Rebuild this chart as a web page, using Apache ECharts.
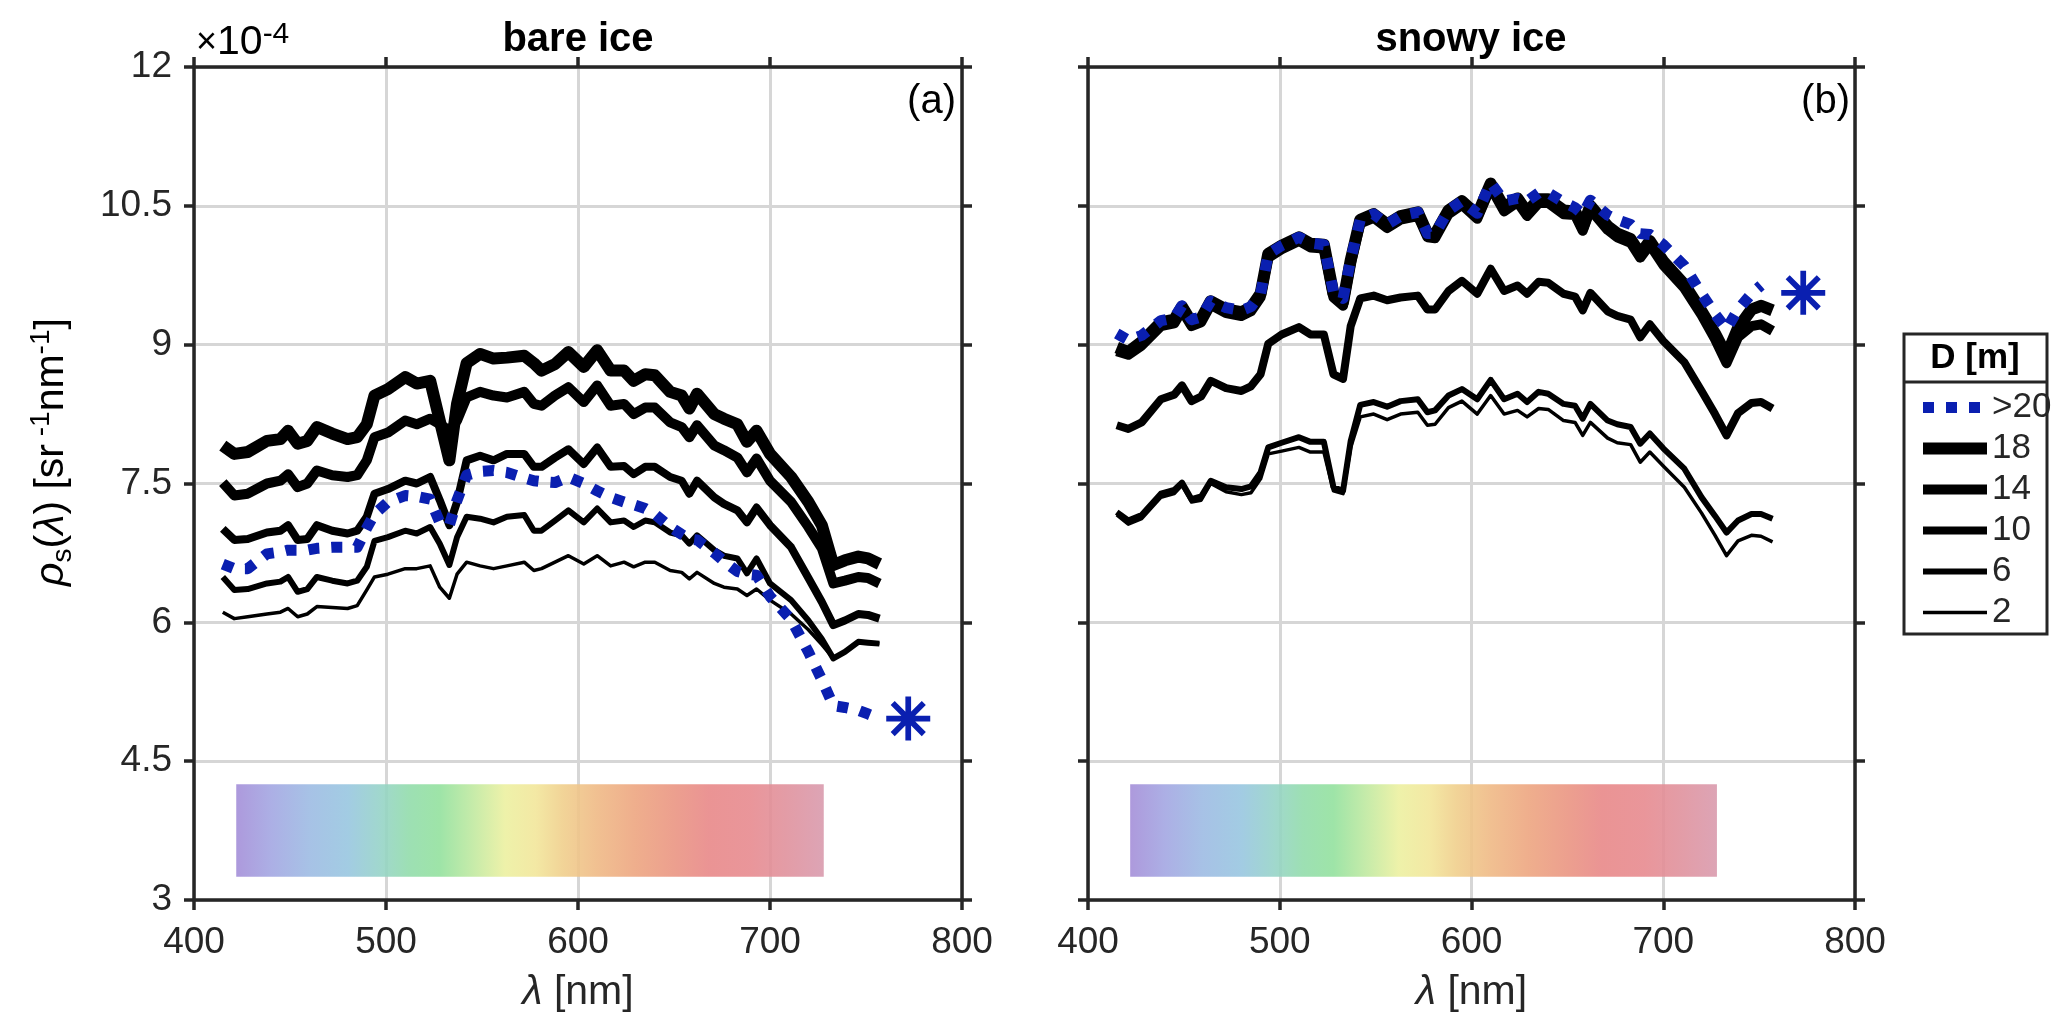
<!DOCTYPE html>
<html><head><meta charset="utf-8">
<script src="https://cdn.jsdelivr.net/npm/echarts@6/dist/echarts.min.js"></script>
<style>html,body{margin:0;padding:0;background:#fff}#c{width:2067px;height:1033px}</style>
</head><body><div id="c"></div>
<script>
// ---------- DATA (values in units of 1e-4 sr^-1 nm^-1) ----------
const wavelength = [415,421,428,438,445,449,454,459,464,472,480,485,490,494,501,510,516,523,528,533,537,542,549,556,563,572,577,581,588,595,603,610,617,624,629,635,640,648,654,658,662,671,676,683,688,693,700,711,720,727,733,739,746,751,757];
const depthNames = ['>20','18','14','10','6','2'];

const bare_gt20 = [6.63,6.58,6.58,6.74,6.76,6.78,6.78,6.78,6.80,6.81,6.81,6.81,7.02,7.17,7.30,7.37,7.36,7.33,7.08,7.05,7.32,7.59,7.63,7.64,7.62,7.56,7.53,7.52,7.51,7.57,7.50,7.42,7.35,7.30,7.27,7.23,7.17,7.03,6.95,6.90,6.89,6.75,6.66,6.55,6.52,6.51,6.28,6.03,5.68,5.38,5.10,5.08,5.05,5.01,4.96];
const bare_18 = [7.91,7.82,7.84,7.96,7.98,8.07,7.93,7.96,8.11,8.04,7.98,8.00,8.14,8.45,8.52,8.65,8.58,8.61,8.18,7.75,8.36,8.80,8.90,8.85,8.86,8.88,8.80,8.72,8.79,8.92,8.76,8.94,8.72,8.72,8.61,8.68,8.67,8.49,8.45,8.31,8.47,8.25,8.20,8.14,7.95,8.07,7.82,7.57,7.30,7.05,6.62,6.67,6.71,6.69,6.63];
const bare_14 = [7.51,7.37,7.39,7.50,7.53,7.60,7.46,7.50,7.64,7.59,7.57,7.59,7.75,8.00,8.05,8.18,8.14,8.20,8.14,8.07,8.18,8.43,8.49,8.45,8.43,8.49,8.36,8.34,8.45,8.54,8.38,8.56,8.34,8.36,8.25,8.32,8.32,8.16,8.11,8.00,8.13,7.91,7.86,7.78,7.62,7.77,7.53,7.30,7.03,6.80,6.42,6.45,6.49,6.48,6.42];
const bare_10 = [7.01,6.89,6.90,6.97,6.99,7.05,6.89,6.90,7.05,6.99,6.96,6.99,7.14,7.39,7.44,7.53,7.50,7.57,7.32,7.05,7.30,7.75,7.80,7.75,7.82,7.82,7.68,7.68,7.78,7.87,7.71,7.89,7.68,7.69,7.60,7.68,7.68,7.57,7.53,7.39,7.53,7.35,7.28,7.21,7.08,7.24,7.05,6.81,6.48,6.22,5.97,6.02,6.09,6.08,6.04];
const bare_6 = [6.49,6.35,6.36,6.42,6.44,6.49,6.33,6.36,6.49,6.45,6.42,6.45,6.60,6.88,6.92,6.99,6.96,7.03,6.85,6.62,6.92,7.14,7.12,7.08,7.14,7.16,6.99,6.99,7.10,7.21,7.08,7.23,7.08,7.10,7.03,7.10,7.08,6.97,6.94,6.85,6.94,6.78,6.72,6.69,6.53,6.69,6.42,6.24,6.02,5.82,5.61,5.68,5.79,5.78,5.77];
const bare_2 = [6.11,6.04,6.06,6.09,6.11,6.15,6.06,6.09,6.17,6.16,6.15,6.18,6.35,6.49,6.52,6.58,6.58,6.61,6.38,6.26,6.52,6.65,6.61,6.58,6.61,6.65,6.56,6.58,6.65,6.72,6.63,6.72,6.61,6.65,6.60,6.65,6.65,6.56,6.54,6.47,6.54,6.42,6.38,6.36,6.29,6.36,6.24,6.09,5.92,5.76,5.61,5.68,5.79,5.78,5.77];

const snow_gt20 = [9.12,9.05,9.10,9.26,9.29,9.42,9.27,9.30,9.47,9.40,9.37,9.41,9.55,9.98,10.07,10.16,10.10,10.08,9.57,9.50,9.92,10.35,10.41,10.30,10.39,10.43,10.20,10.20,10.45,10.55,10.42,10.75,10.55,10.58,10.55,10.64,10.64,10.54,10.48,10.41,10.56,10.40,10.35,10.30,10.20,10.19,10.08,9.85,9.55,9.33,9.17,9.38,9.55,9.64,null];
const snow_18 = [8.97,8.92,9.03,9.24,9.27,9.41,9.24,9.28,9.47,9.38,9.35,9.40,9.55,9.98,10.07,10.16,10.09,10.08,9.55,9.46,9.91,10.35,10.41,10.30,10.39,10.43,10.20,10.19,10.45,10.55,10.40,10.74,10.48,10.58,10.43,10.57,10.57,10.45,10.44,10.27,10.50,10.28,10.20,10.14,9.98,10.12,9.90,9.65,9.36,9.12,8.88,9.18,9.38,9.42,9.37];
const snow_14 = [8.93,8.89,8.99,9.20,9.23,9.37,9.20,9.24,9.43,9.34,9.31,9.36,9.51,9.94,10.03,10.12,10.05,10.04,9.51,9.42,9.87,10.31,10.37,10.26,10.35,10.39,10.16,10.15,10.41,10.51,10.36,10.70,10.44,10.54,10.39,10.53,10.53,10.41,10.40,10.23,10.46,10.24,10.16,10.10,9.94,10.08,9.86,9.61,9.32,9.06,8.80,9.08,9.20,9.22,9.15];
const snow_10 = [8.13,8.09,8.16,8.41,8.46,8.56,8.39,8.44,8.61,8.53,8.50,8.55,8.68,9.01,9.11,9.19,9.11,9.11,8.68,8.63,9.20,9.50,9.53,9.48,9.51,9.53,9.38,9.38,9.58,9.69,9.55,9.82,9.58,9.64,9.55,9.68,9.67,9.55,9.52,9.37,9.56,9.36,9.31,9.27,9.08,9.22,9.04,8.81,8.50,8.25,8.02,8.26,8.37,8.38,8.31];
const snow_6 = [7.19,7.10,7.16,7.39,7.43,7.51,7.33,7.36,7.53,7.46,7.44,7.47,7.62,7.89,7.94,8.00,7.95,7.95,7.46,7.42,7.96,8.35,8.38,8.33,8.39,8.41,8.27,8.29,8.45,8.52,8.41,8.62,8.41,8.47,8.38,8.49,8.47,8.36,8.34,8.20,8.36,8.18,8.14,8.11,7.93,8.04,7.88,7.66,7.35,7.15,6.97,7.10,7.17,7.17,7.12];
const snow_2 = [7.16,7.06,7.12,7.35,7.39,7.48,7.30,7.32,7.50,7.41,7.38,7.40,7.55,7.82,7.85,7.89,7.84,7.84,7.42,7.39,7.89,8.22,8.25,8.19,8.25,8.27,8.13,8.14,8.32,8.39,8.25,8.45,8.25,8.29,8.22,8.31,8.30,8.18,8.16,8.02,8.16,7.99,7.94,7.92,7.73,7.84,7.69,7.46,7.18,6.94,6.72,6.88,6.94,6.93,6.87];

const bare_star = [772, 4.96];
const snow_star = [773, 9.56];

const xTicks = {min: 400, max: 800, interval: 100};
const yTicks = {min: 3, max: 12, interval: 1.5};
const spectrumRange = [422, 728];
const spectrumY = [3.25, 4.25];
const spectrumStops = [[422,'#a48ed8'],[440,'#a3a6e2'],[460,'#9dbbe3'],[480,'#98c6e0'],[497,'#96d3c8'],[512,'#92dcab'],[528,'#93e19e'],[545,'#bfe9a0'],[562,'#ecf0a0'],[578,'#f2e69a'],[592,'#f0cf8c'],[610,'#efb985'],[630,'#eda580'],[650,'#ea9582'],[668,'#e88888'],[690,'#e78a8f'],[708,'#e0919c'],[728,'#d99aad']];

// ---------- STYLE ----------
const FONT = '"Liberation Sans", Arial, Helvetica, sans-serif';
const AX = '#262626';
const BLUE = '#0a1fb0';
const lineWidths = {'>20': 11, '18': 12, '14': 10, '10': 8, '6': 6, '2': 3.5};

function xAx(grid, pos, primary) {
  return {
    type: 'value', gridIndex: grid, position: pos,
    min: xTicks.min, max: xTicks.max, interval: xTicks.interval,
    axisLine: {show: true, onZero: false, lineStyle: {color: AX, width: 3.5}},
    axisTick: {show: true, inside: false, length: 10, lineStyle: {color: AX, width: 3.5}},
    axisLabel: {show: primary, margin: 24, fontSize: 37, color: AX, fontFamily: FONT},
    splitLine: {show: primary, lineStyle: {color: '#d6d6d6', width: 3}},
    name: primary ? '{i|λ} [nm]' : '', nameLocation: 'middle', nameGap: 72,
    nameTextStyle: {fontSize: 41, color: AX, fontFamily: FONT,
      rich: {i: {fontStyle: 'italic', fontSize: 41, fontFamily: FONT, color: AX}}}
  };
}
function yAx(grid, pos, labels, split) {
  return {
    type: 'value', gridIndex: grid, position: pos,
    min: yTicks.min, max: yTicks.max, interval: yTicks.interval,
    axisLine: {show: true, onZero: false, lineStyle: {color: AX, width: 3.5}},
    axisTick: {show: true, inside: false, length: 10, lineStyle: {color: AX, width: 3.5}},
    axisLabel: {show: labels, margin: 22, fontSize: 37, color: AX, fontFamily: FONT},
    splitLine: {show: split, lineStyle: {color: '#d6d6d6', width: 3}}
  };
}

const starPath = 'path://M-10,-1.3 L10,-1.3 L10,1.3 L-10,1.3 Z ' +
  'M1.3,-10 L1.3,10 L-1.3,10 L-1.3,-10 Z ' +
  'M-6.15,-7.99 L7.99,6.15 L6.15,7.99 L-7.99,-6.15 Z ' +
  'M-7.99,6.15 L6.15,-7.99 L7.99,-6.15 L-6.15,7.99 Z';

function lineSeries(name, values, axisIdx) {
  const isBlue = name === '>20';
  return {
    type: 'line', name: name, xAxisIndex: axisIdx, yAxisIndex: axisIdx,
    data: wavelength.map((w, i) => [w, values[i]]),
    symbol: 'none', showSymbol: false, connectNulls: false, silent: true,
    lineStyle: {color: isBlue ? BLUE : '#000', width: lineWidths[name],
      type: isBlue ? [11, 12] : 'solid', cap: 'butt', join: 'round'},
    itemStyle: {color: isBlue ? BLUE : '#000'},
    z: isBlue ? 5 : 3
  };
}

const gradient = {
  type: 'linear', x: 0, y: 0, x2: 1, y2: 0,
  colorStops: spectrumStops.map(s => ({offset: (s[0] - spectrumRange[0]) / (spectrumRange[1] - spectrumRange[0]), color: s[1]}))
};
function spectrumBar(axisIdx) {
  return {
    type: 'line', name: 'spectrum', xAxisIndex: axisIdx, yAxisIndex: axisIdx, data: [], silent: true,
    markArea: {silent: true, itemStyle: {color: gradient, opacity: 0.9, borderWidth: 0},
      data: [[{xAxis: spectrumRange[0], yAxis: spectrumY[0]}, {xAxis: spectrumRange[1], yAxis: spectrumY[1]}]]}
  };
}
function starSeries(pt, axisIdx) {
  return {type: 'scatter', name: 'star', xAxisIndex: axisIdx, yAxisIndex: axisIdx, data: [pt],
    symbol: starPath, symbolSize: 44, itemStyle: {color: BLUE, opacity: 1}, silent: true, z: 6};
}

const bareSets = {'>20': bare_gt20, '18': bare_18, '14': bare_14, '10': bare_10, '6': bare_6, '2': bare_2};
const snowSets = {'>20': snow_gt20, '18': snow_18, '14': snow_14, '10': snow_10, '6': snow_6, '2': snow_2};
const drawOrder = ['18', '14', '10', '6', '2', '>20'];

const series = [spectrumBar(0), spectrumBar(2)];
drawOrder.forEach(n => series.push(lineSeries(n, bareSets[n], 0)));
drawOrder.forEach(n => series.push(lineSeries(n, snowSets[n], 2)));
series.push(starSeries(bare_star, 0), starSeries(snow_star, 2));

const supRich = {
  n: {fontSize: 41, lineHeight: 50, fontFamily: FONT, color: AX},
  i: {fontSize: 41, lineHeight: 50, fontFamily: FONT, color: AX, fontStyle: 'italic'},
  sub: {fontSize: 28, lineHeight: 28, fontFamily: FONT, color: AX, verticalAlign: 'bottom'},
  sup: {fontSize: 28, lineHeight: 28, fontFamily: FONT, color: AX, verticalAlign: 'top'}
};

const chart = echarts.init(document.getElementById('c'), null, {renderer: 'canvas'});
chart.setOption({
  animation: false,
  backgroundColor: '#fff',
  grid: [
    {left: 194, top: 67, width: 768, height: 833, containLabel: false},
    {left: 1088, top: 67, width: 767, height: 833, containLabel: false}
  ],
  xAxis: [xAx(0, 'bottom', true), xAx(0, 'top', false), xAx(1, 'bottom', true), xAx(1, 'top', false)],
  yAxis: [yAx(0, 'left', true, true), yAx(0, 'right', false, false), yAx(1, 'left', false, true), yAx(1, 'right', false, false)],
  legend: {
    orient: 'vertical', left: 1912, top: 385, itemWidth: 64, itemHeight: 14, itemGap: 6,
    selectedMode: false, data: depthNames,
    textStyle: {fontSize: 35, lineHeight: 34, color: AX, fontFamily: FONT},
    lineStyle: {width: 'inherit'},
    itemStyle: {color: 'rgba(0,0,0,0)', borderColor: 'rgba(0,0,0,0)', borderWidth: 0}
  },
  graphic: [
    {type: 'text', x: 578, y: 40, style: {text: 'bare ice', fontSize: 40, fontWeight: 'bold', fontFamily: FONT, fill: '#000', align: 'center', verticalAlign: 'middle'}},
    {type: 'text', x: 1471, y: 40, style: {text: 'snowy ice', fontSize: 40, fontWeight: 'bold', fontFamily: FONT, fill: '#000', align: 'center', verticalAlign: 'middle'}},
    {type: 'text', x: 956, y: 102, style: {text: '(a)', fontSize: 40, fontFamily: FONT, fill: '#000', align: 'right', verticalAlign: 'middle'}},
    {type: 'text', x: 1850, y: 102, style: {text: '(b)', fontSize: 40, fontFamily: FONT, fill: '#000', align: 'right', verticalAlign: 'middle'}},
    {type: 'text', x: 196, y: 66, style: {text: '{x|×}{n|10}{sup|-4}', align: 'left', verticalAlign: 'bottom',
      rich: {x: {fontSize: 36, lineHeight: 46, fontFamily: FONT, color: AX}, n: {fontSize: 41, lineHeight: 46, fontFamily: FONT, color: AX}, sup: {fontSize: 30, lineHeight: 30, fontFamily: FONT, color: AX, verticalAlign: 'top'}}}},
    {type: 'text', x: 52, y: 452, rotation: Math.PI / 2, style: {
      text: '{i|ρ}{sub|s}{n|(}{i|λ}{n|) [sr}{sup| -1}{n|nm}{sup|-1}{n|]}',
      align: 'center', verticalAlign: 'middle', rich: supRich}},
    {type: 'rect', shape: {x: 1904, y: 334, width: 143, height: 300}, style: {fill: 'none', stroke: AX, lineWidth: 3}},
    {type: 'line', shape: {x1: 1904, y1: 382, x2: 2047, y2: 382}, style: {stroke: AX, lineWidth: 3}},
    {type: 'text', x: 1975, y: 358, style: {text: 'D [m]', fontSize: 35, fontWeight: 'bold', fontFamily: FONT, fill: '#000', align: 'center', verticalAlign: 'middle'}}
  ],
  series: series
});
</script></body></html>
